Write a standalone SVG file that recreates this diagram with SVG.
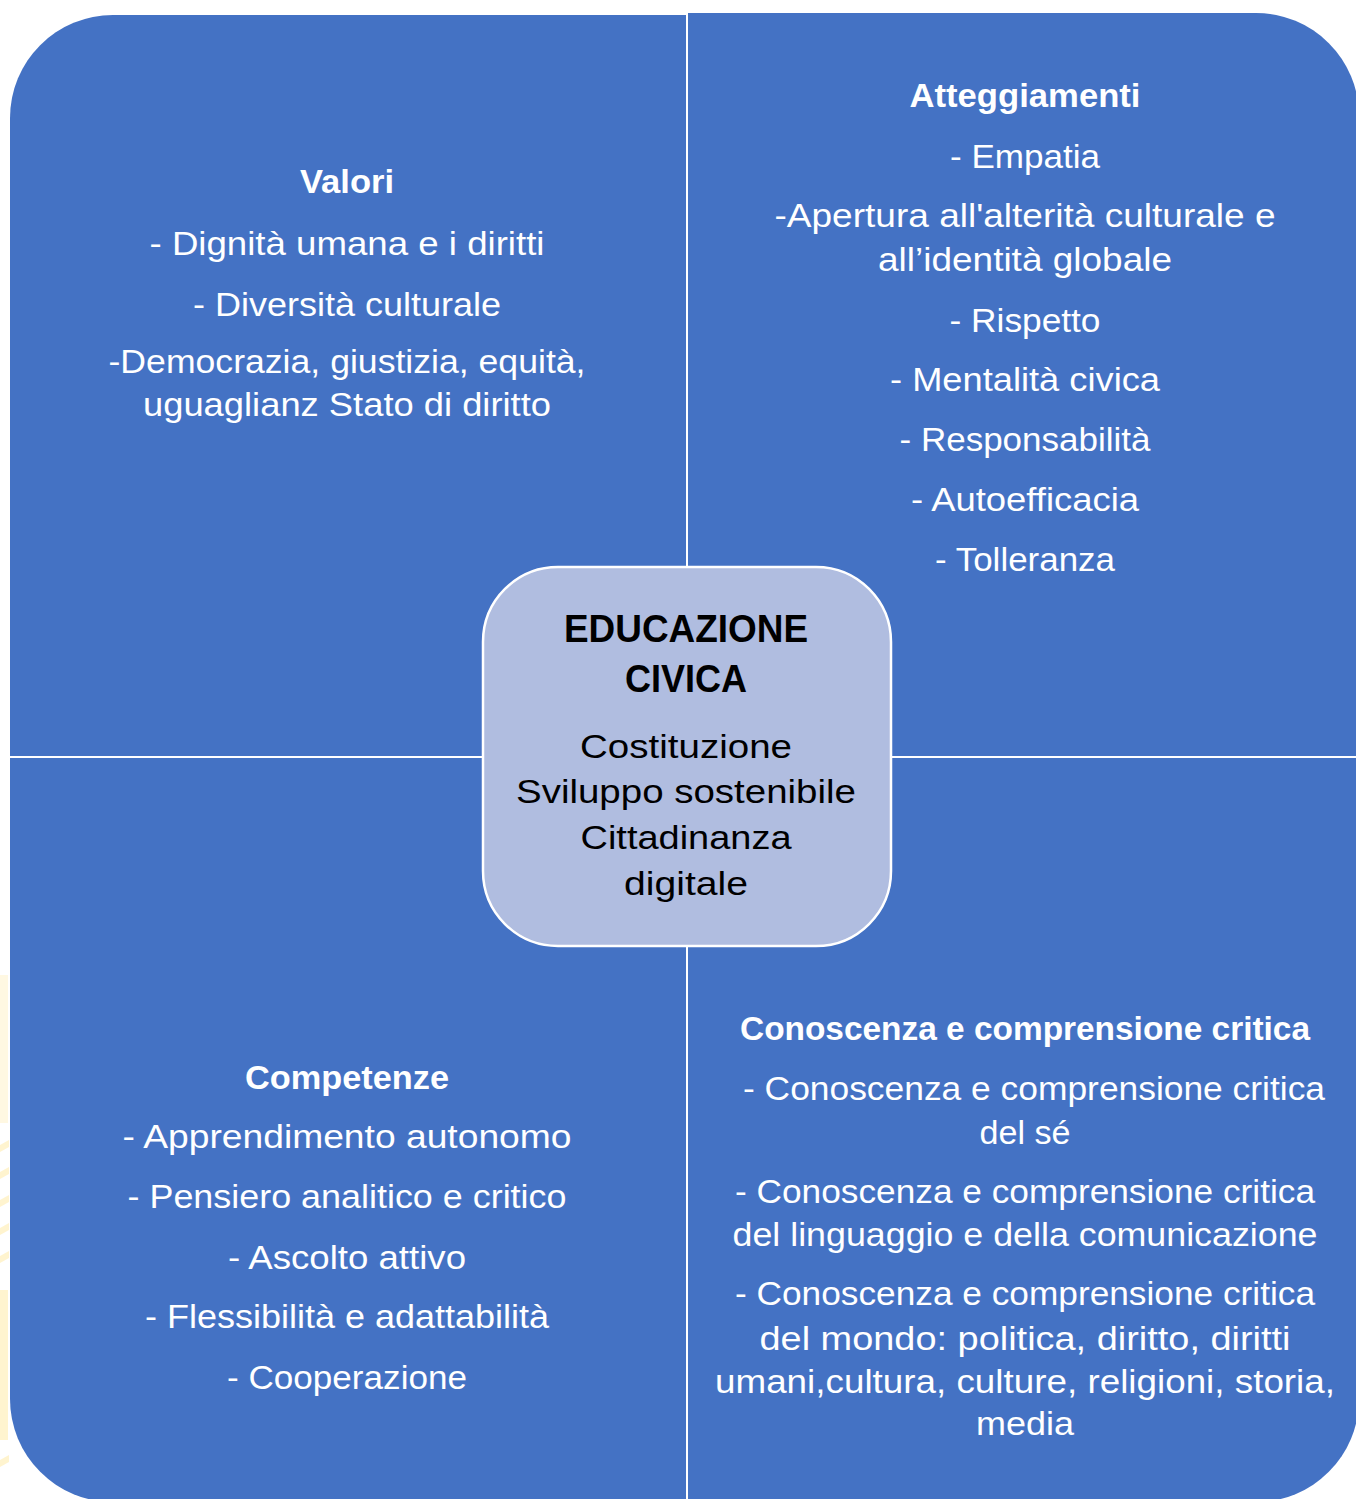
<svg xmlns="http://www.w3.org/2000/svg" width="1356" height="1499" viewBox="0 0 1356 1499">
<style>
.q{fill:#4472c4}
.t{font-family:"Liberation Sans",Arial,sans-serif;font-size:33px;fill:#ffffff;text-anchor:middle}
.h{font-weight:bold}
.c{font-family:"Liberation Sans",Arial,sans-serif;font-size:33px;fill:#000000;text-anchor:middle}
.cb{font-size:38px;font-weight:bold}
.deco{fill:#fff4cf}
</style>
<rect width="1356" height="1499" fill="#ffffff"/>
<g id="decoration">
<rect class="deco" x="0" y="975" width="8" height="148" opacity="0.6"/>
<polygon class="deco" points="0,1145 9,1140 9,1147 0,1152"/>
<polygon class="deco" points="0,1172 9,1167 9,1174 0,1179"/>
<polygon class="deco" points="0,1200 9,1195 9,1202 0,1207"/>
<polygon class="deco" points="0,1228 9,1223 9,1230 0,1235"/>
<polygon class="deco" points="0,1256 9,1251 9,1258 0,1263"/>
<rect class="deco" x="0" y="1290" width="8" height="150"/>
<polygon class="deco" points="0,1460 9,1455 9,1462 0,1467"/>
</g>
<g id="valori">
<path class="q" d="M10,118 A103,103 0 0 1 113,15 L686,15 L686,756 L10,756 Z"/>
<text class="t h" x="347" y="193" textLength="94" lengthAdjust="spacingAndGlyphs">Valori</text>
<text class="t" x="347" y="255" textLength="395" lengthAdjust="spacingAndGlyphs">- Dignità umana e i diritti</text>
<text class="t" x="347" y="316" textLength="308" lengthAdjust="spacingAndGlyphs">- Diversità culturale</text>
<text class="t" x="347" y="373" textLength="477" lengthAdjust="spacingAndGlyphs">-Democrazia, giustizia, equità,</text>
<text class="t" x="347" y="416" textLength="408" lengthAdjust="spacingAndGlyphs">uguaglianz Stato di diritto</text>
</g>
<g id="atteggiamenti">
<path class="q" d="M688,13 L1256,13 A103,103 0 0 1 1359,116 L1359,756 L688,756 Z"/>
<text class="t h" x="1025" y="107" textLength="231" lengthAdjust="spacingAndGlyphs">Atteggiamenti</text>
<text class="t" x="1025" y="168" textLength="150" lengthAdjust="spacingAndGlyphs">- Empatia</text>
<text class="t" x="1025" y="227" textLength="501" lengthAdjust="spacingAndGlyphs">-Apertura all'alterità culturale e</text>
<text class="t" x="1025" y="271" textLength="294" lengthAdjust="spacingAndGlyphs">all’identità globale</text>
<text class="t" x="1025" y="332" textLength="151" lengthAdjust="spacingAndGlyphs">- Rispetto</text>
<text class="t" x="1025" y="391" textLength="270" lengthAdjust="spacingAndGlyphs">- Mentalità civica</text>
<text class="t" x="1025" y="451" textLength="251" lengthAdjust="spacingAndGlyphs">- Responsabilità</text>
<text class="t" x="1025" y="511" textLength="228" lengthAdjust="spacingAndGlyphs">- Autoefficacia</text>
<text class="t" x="1025" y="571" textLength="180" lengthAdjust="spacingAndGlyphs">- Tolleranza</text>
</g>
<g id="competenze">
<path class="q" d="M10,758 L686,758 L686,1502 L113,1502 A103,103 0 0 1 10,1399 Z"/>
<text class="t h" x="347" y="1089" textLength="204" lengthAdjust="spacingAndGlyphs">Competenze</text>
<text class="t" x="347" y="1148" textLength="449" lengthAdjust="spacingAndGlyphs">- Apprendimento autonomo</text>
<text class="t" x="347" y="1208" textLength="439" lengthAdjust="spacingAndGlyphs">- Pensiero analitico e critico</text>
<text class="t" x="347" y="1269" textLength="238" lengthAdjust="spacingAndGlyphs">- Ascolto attivo</text>
<text class="t" x="347" y="1328" textLength="404" lengthAdjust="spacingAndGlyphs">- Flessibilità e adattabilità</text>
<text class="t" x="347" y="1389" textLength="240" lengthAdjust="spacingAndGlyphs">- Cooperazione</text>
</g>
<g id="conoscenza">
<path class="q" d="M688,758 L1359,758 L1359,1399 A103,103 0 0 1 1256,1502 L688,1502 Z"/>
<text class="t h" x="1025" y="1040" textLength="570" lengthAdjust="spacingAndGlyphs">Conoscenza e comprensione critica</text>
<text class="t" x="1034" y="1100" textLength="582" lengthAdjust="spacingAndGlyphs">- Conoscenza e comprensione critica</text>
<text class="t" x="1025" y="1144" textLength="91" lengthAdjust="spacingAndGlyphs">del sé</text>
<text class="t" x="1025" y="1203" textLength="580" lengthAdjust="spacingAndGlyphs">- Conoscenza e comprensione critica</text>
<text class="t" x="1025" y="1246" textLength="585" lengthAdjust="spacingAndGlyphs">del linguaggio e della comunicazione</text>
<text class="t" x="1025" y="1305" textLength="580" lengthAdjust="spacingAndGlyphs">- Conoscenza e comprensione critica</text>
<text class="t" x="1025" y="1350" textLength="531" lengthAdjust="spacingAndGlyphs">del mondo: politica, diritto, diritti</text>
<text class="t" x="1025" y="1393" textLength="620" lengthAdjust="spacingAndGlyphs">umani,cultura, culture, religioni, storia,</text>
<text class="t" x="1025" y="1435" textLength="98" lengthAdjust="spacingAndGlyphs">media</text>
</g>
<g id="connectors"></g>
<g id="educazione-civica">
<rect x="483" y="567" width="408" height="379" rx="75" ry="75" fill="#b0bde0" stroke="#ffffff" stroke-width="2.5"/>
<text class="c cb" x="686" y="642" textLength="244" lengthAdjust="spacingAndGlyphs">EDUCAZIONE</text>
<text class="c cb" x="686" y="692" textLength="122" lengthAdjust="spacingAndGlyphs">CIVICA</text>
<text class="c" x="686" y="758" textLength="212" lengthAdjust="spacingAndGlyphs">Costituzione</text>
<text class="c" x="686" y="803" textLength="340" lengthAdjust="spacingAndGlyphs">Sviluppo sostenibile</text>
<text class="c" x="686" y="849" textLength="211" lengthAdjust="spacingAndGlyphs">Cittadinanza</text>
<text class="c" x="686" y="895" textLength="124" lengthAdjust="spacingAndGlyphs">digitale</text>
</g>
</svg>
